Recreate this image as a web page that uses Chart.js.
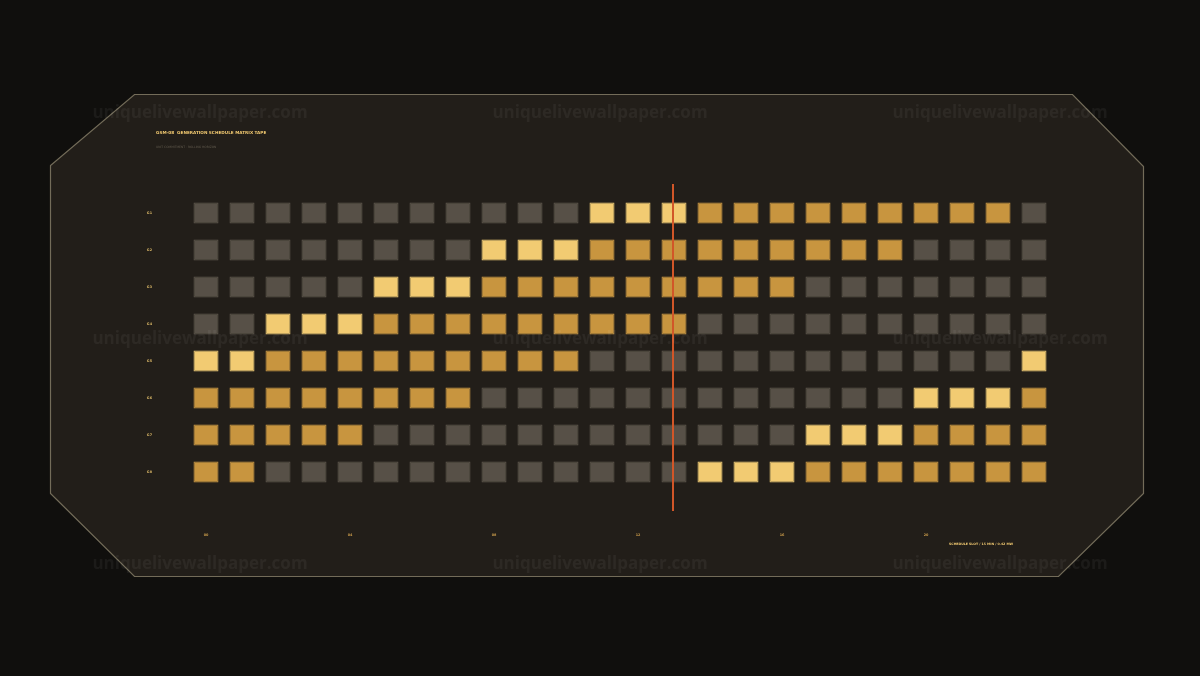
<!DOCTYPE html>
<html>
<head>
<meta charset="utf-8">
<script src="https://cdn.jsdelivr.net/npm/chart.js@4/dist/chart.umd.min.js"></script>
<style>
html,body{margin:0;padding:0;background:#100f0d;}
#wrap{width:1200px;height:676px;}
</style>
</head>
<body>
<div id="wrap"><canvas id="c" width="1200" height="676"></canvas></div>
<script>
// ---- data ----
const units = ['G1','G2','G3','G4','G5','G6','G7','G8'];
const slots = ['00','01','02','03','04','05','06','07','08','09','10','11','12','13','14','15','16','17','18','19','20','21','22','23'];
const slotTickLabels = ['00','04','08','12','16','20'];
// 0 = offline, 1 = committed, 2 = ramping / start-up
const g1 = [0,0,0,0,0,0,0,0,0,0,0,2,2,2,1,1,1,1,1,1,1,1,1,0];
const g2 = [0,0,0,0,0,0,0,0,2,2,2,1,1,1,1,1,1,1,1,1,0,0,0,0];
const g3 = [0,0,0,0,0,2,2,2,1,1,1,1,1,1,1,1,1,0,0,0,0,0,0,0];
const g4 = [0,0,2,2,2,1,1,1,1,1,1,1,1,1,0,0,0,0,0,0,0,0,0,0];
const g5 = [2,2,1,1,1,1,1,1,1,1,1,0,0,0,0,0,0,0,0,0,0,0,0,2];
const g6 = [1,1,1,1,1,1,1,1,0,0,0,0,0,0,0,0,0,0,0,0,2,2,2,1];
const g7 = [1,1,1,1,1,0,0,0,0,0,0,0,0,0,0,0,0,2,2,2,1,1,1,1];
const g8 = [1,1,0,0,0,0,0,0,0,0,0,0,0,0,2,2,2,1,1,1,1,1,1,1];
const unitStates = [g1,g2,g3,g4,g5,g6,g7,g8];
const currentSlot = 13;

// ---- styles ----
const fillColors = ['#575047','#c8953f','#f2cb72'];
const edgeColors = ['#615a4f','#cf9d48','#f5d27c'];
const half = 0.285;

const datasets = unitStates.map((states, r) => ({
  label: units[r],
  data: states.map(() => [r - half, r + half]),
  backgroundColor: states.map(s => fillColors[s]),
  borderColor: states.map(s => edgeColors[s]),
  borderWidth: 1,
  borderSkipped: false,
  barPercentage: 25/36,
  categoryPercentage: 1,
  grouped: false
}));

const panelPlugin = {
  id: 'panel',
  beforeDraw(chart) {
    const ctx = chart.ctx;
    ctx.save();
    ctx.fillStyle = '#100f0d';
    ctx.fillRect(0, 0, chart.width, chart.height);
    ctx.beginPath();
    ctx.moveTo(134.5, 94.5);
    ctx.lineTo(1072.5, 94.5);
    ctx.lineTo(1143.5, 166.5);
    ctx.lineTo(1143.5, 493.5);
    ctx.lineTo(1058.5, 576.5);
    ctx.lineTo(134.5, 576.5);
    ctx.lineTo(50.5, 493.5);
    ctx.lineTo(50.5, 165.5);
    ctx.closePath();
    ctx.fillStyle = '#221e19';
    ctx.fill();
    ctx.strokeStyle = '#736c59';
    ctx.lineWidth = 1.2;
    ctx.stroke();

    ctx.textBaseline = 'middle';
    ctx.textAlign = 'left';
    ctx.fillStyle = '#f0c870';
    ctx.font = 'bold 4.2px "DejaVu Sans"';
    ctx.fillText('GSM-08  GENERATION SCHEDULE MATRIX TAPE', 156, 133);
    ctx.fillStyle = '#625b4e';
    ctx.font = '3px "DejaVu Sans"';
    ctx.fillText('UNIT COMMITMENT · ROLLING HORIZON', 156, 147);
    ctx.fillStyle = '#f0c870';
    ctx.font = 'bold 3.2px "DejaVu Sans"';
    ctx.fillText('SCHEDULE SLOT / 15 MIN / 0.42 MW', 949, 544);
    ctx.restore();
  },
  afterDatasetsDraw(chart) {
    const ctx = chart.ctx;
    const x = chart.scales.x.getPixelForValue(currentSlot) - 1;
    ctx.save();
    ctx.strokeStyle = '#d15628';
    ctx.lineWidth = 2;
    ctx.beginPath();
    ctx.moveTo(x, 184);
    ctx.lineTo(x, 511);
    ctx.stroke();
    ctx.restore();
  },
  afterDraw(chart) {
    const ctx = chart.ctx;
    ctx.save();
    ctx.fillStyle = 'rgba(255,255,255,0.05)';
    ctx.font = 'bold 17px "Open Sans"';
    ctx.textAlign = 'center';
    ctx.textBaseline = 'middle';
    [113, 339, 564].forEach(y => {
      [200, 600, 1000].forEach(x => ctx.fillText('uniquelivewallpaper.com', x, y));
    });
    ctx.restore();
  }
};

new Chart(document.getElementById('c'), {
  type: 'bar',
  data: { labels: slots, datasets },
  options: {
    responsive: false,
    animation: false,
    layout: { padding: { left: 0, right: 148, top: 194.5, bottom: 0 } },
    plugins: { legend: { display: false }, tooltip: { enabled: false } },
    scales: {
      x: {
        type: 'category',
        offset: true,
        grid: { display: false, drawTicks: false },
        border: { display: false },
        ticks: {
          autoSkip: false,
          maxRotation: 0,
          padding: 42.5,
          color: '#c89a4a',
          font: { size: 3.4, family: 'DejaVu Sans', weight: 'bold' },
          callback: (v, i) => (i % 4 === 0 ? slotTickLabels[i / 4] : null)
        },
        afterFit: s => { s.height = 676 - 490.5; }
      },
      y: {
        type: 'linear',
        min: -0.5,
        max: 7.5,
        reverse: true,
        grid: { display: false, drawTicks: false },
        border: { display: false },
        afterBuildTicks: s => { s.ticks = units.map((_, i) => ({ value: i })); },
        ticks: {
          padding: 36,
          color: '#d9b666',
          font: { size: 3.4, family: 'DejaVu Sans', weight: 'bold' },
          callback: v => units[v]
        },
        afterFit: s => { s.width = 188; }
      }
    }
  },
  plugins: [panelPlugin]
});
</script>
</body>
</html>
